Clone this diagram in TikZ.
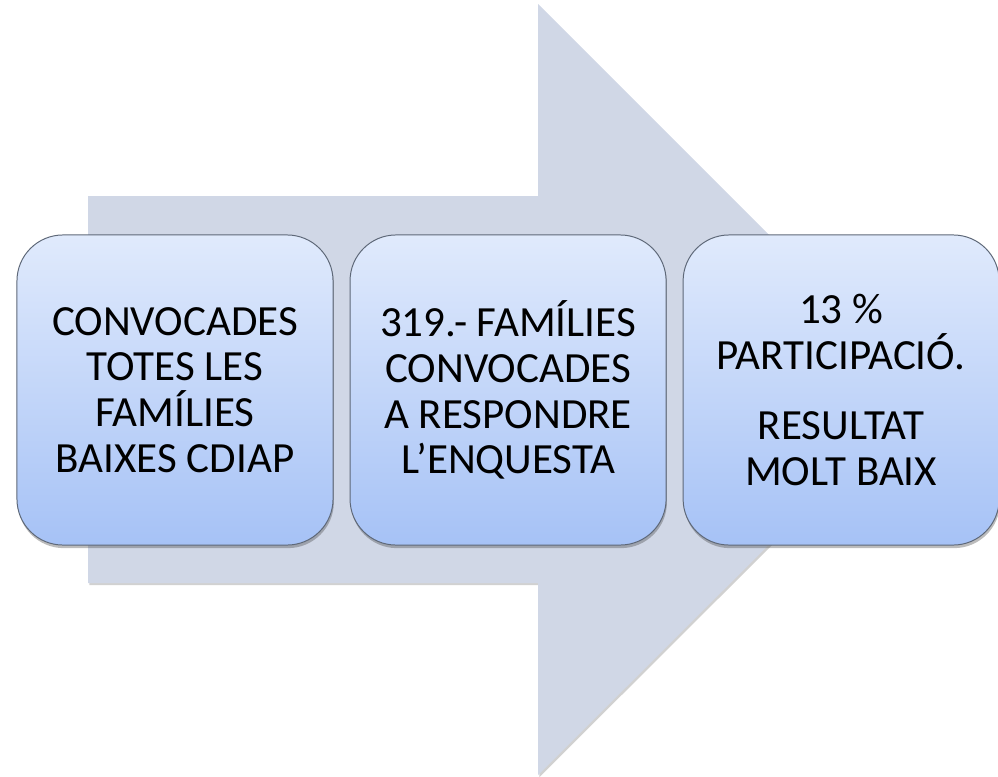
\documentclass[tikz,border=0pt]{standalone}
\usepackage{fontspec}
\setmainfont{Carlito}
\usepackage{tikz}
\usetikzlibrary{positioning, shadows}
\definecolor{arrowgray}{HTML}{D0D7E6}
\definecolor{boxtop}{HTML}{E0EAFC}
\definecolor{boxbot}{HTML}{A6C2F6}
\definecolor{boxline}{HTML}{5E6878}

\begin{document}
\begin{tikzpicture}[
                x = 0.025cm, y = -0.025cm,
                node distance = 0.4cm and 0.4cm,
                B/.style = {rectangle, rounded corners=1.15cm, draw=boxline, line width=0.7pt,
                            top color=boxtop, bottom color=boxbot,
                            minimum width=7.9cm, minimum height=7.75cm,
                            align=center, inner sep=2pt,
                            font=\fontsize{30.6}{32.6}\selectfont,
                            drop shadow={shadow xshift=0.6pt, shadow yshift=-2.2pt, opacity=.35, fill=black!75}},
                A/.style = {fill=arrowgray,
                            drop shadow={shadow xshift=1pt, shadow yshift=-1.5pt, opacity=.18, fill=black}}
                    ]
                \useasboundingbox (0,0) rectangle (998,776);
                % big arrow behind the boxes
                \fill[A] (88,196) -- (538,196) -- (538,4) -- (924,390)
                      -- (538,775) -- (538,583) -- (88,583) -- cycle;
                \begin{scope}[nodes=B]
                \node (1) at (175,390) {CONVOCADES\\TOTES LES\\FAMÍLIES\\BAIXES CDIAP}; 
                \node (2) [right=of 1] {319.- FAMÍLIES\\CONVOCADES\\A RESPONDRE\\L’ENQUESTA}; 
                \node (3) [right=of 2] {13 \%\\PARTICIPACIÓ.\\[0.6cm]RESULTAT\\MOLT BAIX}; 
                \end{scope}
            \end{tikzpicture}
\end{document}
